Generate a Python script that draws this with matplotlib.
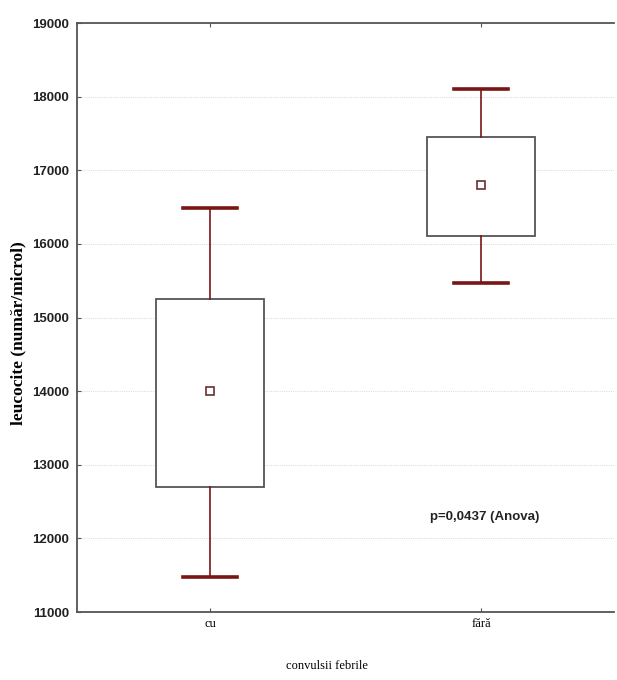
import matplotlib
matplotlib.use("Agg")
import matplotlib.pyplot as plt

# values (leucocite per group)
groups = ["cu", "fără"]
means = [14000, 16800]
box_low = [12700, 16110]
box_high = [15250, 17450]
whisk_low = [11475, 15470]
whisk_high = [16490, 18105]
y_ticks = [11000, 12000, 13000, 14000, 15000, 16000, 17000, 18000, 19000]

narrow = ["Liberation Sans Narrow", "Liberation Sans", "DejaVu Sans"]
serif = ["Liberation Serif", "DejaVu Serif"]
dark_red = "#7a1515"

fig = plt.figure(figsize=(6.17, 6.80), dpi=100)
ax = fig.add_axes([0.125, 0.1, 0.87, 0.866])

stats = []
for i, g in enumerate(groups):
    stats.append({"label": g, "med": means[i], "mean": means[i],
                  "q1": box_low[i], "q3": box_high[i],
                  "whislo": whisk_low[i], "whishi": whisk_high[i], "fliers": []})

ax.bxp(stats, positions=range(len(groups)), widths=0.40, capwidths=0.2,
       showmeans=True, showfliers=False, patch_artist=True,
       boxprops=dict(facecolor="white", edgecolor="#555555", linewidth=1.3),
       whiskerprops=dict(color=dark_red, linewidth=1.2),
       capprops=dict(color=dark_red, linewidth=2.6),
       medianprops=dict(linewidth=0),
       meanprops=dict(marker="s", markersize=6, markerfacecolor="white",
                      markeredgecolor="#6a3030", markeredgewidth=1.2))

ax.set_xlim(-0.49, 1.49)
ax.set_ylim(11000, 19000)
ax.set_yticks(y_ticks)
ax.set_yticklabels([str(v) for v in y_ticks], family=narrow, fontweight="bold",
                   fontsize=9.5, color="#222222")
ax.set_xticks(range(len(groups)))
ax.set_xticklabels(groups, family=serif, fontsize=9)
ax.tick_params(axis="y", direction="in", length=3, pad=6, color="#555555")
ax.tick_params(axis="x", direction="in", length=3, pad=4, color="#555555", top=True)
ax.set_axisbelow(True)
ax.grid(axis="y", color="#dddddd", linestyle=(0, (1, 1)), linewidth=0.8)

for s in ax.spines.values():
    s.set_color("#555555")
    s.set_linewidth(1.3)
ax.spines["right"].set_visible(False)

ax.text(1.015, 12290, "p=0,0437 (Anova)", family=narrow, fontweight="bold",
        fontsize=9.5, ha="center", va="center", color="#222222")

fig.text(0.03, 0.51, "leucocite (număr/microl)", rotation=90, family=serif,
         fontweight="bold", fontsize=12.5, ha="center", va="center")
fig.text(0.53, 0.012, "convulsii febrile", family=serif, fontsize=9,
         ha="center", va="bottom")

fig.savefig("out.png", dpi=100)
